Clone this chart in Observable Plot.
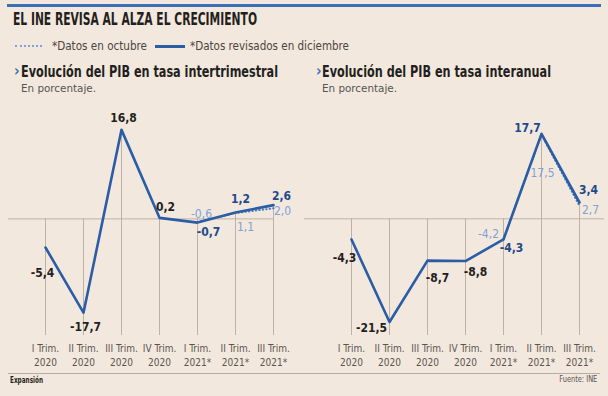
<!DOCTYPE html>
<html><head><meta charset="utf-8">
<script src="https://cdn.jsdelivr.net/npm/d3@7"></script>
<script src="https://cdn.jsdelivr.net/npm/@observablehq/plot@0.6"></script>
<style>
body{margin:0;background:#f3e8dd;}
#page{position:relative;width:608px;height:396px;overflow:hidden;background:#f3e8dd;font-family:"Liberation Sans Narrow","DejaVu Sans Condensed",Roboto,sans-serif;color:#231f20;}
.abs{position:absolute;white-space:nowrap;line-height:1;}
.chart{position:absolute;top:100px;}
</style></head><body><div id="page"></div>
<script>
// ---- data ----
const quarters = ["I Trim.\n2020","II Trim.\n2020","III Trim.\n2020","IV Trim.\n2020","I Trim.\n2021*","II Trim.\n2021*","III Trim.\n2021*"];
const octQuarters = ["I Trim.\n2021*","II Trim.\n2021*","III Trim.\n2021*"];
const interRevised = [-5.4, -17.7, 16.8, 0.2, -0.7, 1.2, 2.6];
const interOctober = [-0.6, 1.1, 2.0];
const anualRevised = [-4.3, -21.5, -8.7, -8.8, -4.3, 17.7, 3.4];
const anualOctober = [-4.2, 17.5, 2.7];
const title = "EL INE REVISA AL ALZA EL CRECIMIENTO";
const legendOct = "*Datos en octubre";
const legendRev = "*Datos revisados en diciembre";
const subLeft = "Evolución del PIB en tasa intertrimestral";
const subRight = "Evolución del PIB en tasa interanual";
const unit = "En porcentaje.";
const credit = "Expansión";
const source = "Fuente: INE";

// ---- styles ----
const BLUE = "#2b5ca6", LIGHT = "#7ea2d5", DOTS = "#4f7fc2", NAVY = "#1f4a8a", INK = "#231f20", GRID = "#bcb2a8";
const FONT = '"Liberation Sans Narrow","DejaVu Sans Condensed",Roboto,sans-serif';
const fmt = v => d3.format(".1f")(v).replace(".", ",").replace("\u2212", "-");

const page = document.getElementById("page");
function add(txt, css, fitW, origin){
  const el = document.createElement("div");
  el.className = "abs"; el.textContent = txt;
  Object.assign(el.style, css);
  page.appendChild(el);
  if (fitW) { const w = el.getBoundingClientRect().width; el.style.transform = `scaleX(${fitW / w})`; el.style.transformOrigin = origin || "left"; }
  return el;
}
// top bar
add("", {left:"7px", top:"4px", width:"594px", height:"3px", background:"#3e6fb6"});
add(title, {left:"13px", top:"10px", fontSize:"18px", fontWeight:"bold"}, 244);
// legend
add("", {left:"15px", top:"45px", width:"27px", height:"0", borderTop:`2px dotted ${LIGHT}`});
add(legendOct, {left:"52px", top:"41px", fontSize:"11.5px", color:"#4a4540"}, 95);
add("", {left:"155px", top:"45px", width:"30px", height:"2.5px", background:BLUE});
add(legendRev, {left:"190px", top:"41px", fontSize:"11.5px", color:"#4a4540"}, 159);
// subtitles
add("›", {left:"14px", top:"64px", fontSize:"15px", fontWeight:"bold", color:"#3e6fb6"});
add(subLeft, {left:"21px", top:"65px", fontSize:"15px", fontWeight:"bold"}, 257);
add(unit, {left:"21px", top:"83px", fontSize:"10.5px", color:"#555"}, 75);
add("›", {left:"316px", top:"64px", fontSize:"15px", fontWeight:"bold", color:"#3e6fb6"});
add(subRight, {left:"322px", top:"65px", fontSize:"15px", fontWeight:"bold"}, 229);
add(unit, {left:"322px", top:"83px", fontSize:"10.5px", color:"#555"}, 75);
// footer
add("", {left:"8px", top:"373px", width:"592px", height:"1px", background:"#b5aca3"});
add(credit, {left:"10px", top:"377px", fontSize:"8px", fontWeight:"bold"}, 33);
add(source, {right:"11px", top:"376px", fontSize:"8px", color:"#555"}, 38, "right");

function chart({revised, october, yDomain, marginLeft, marginRight, revOff, octOff, zeroInset}){
  const rev = quarters.map((q,i)=>({q, v:revised[i], i}));
  const oct = octQuarters.map((q,i)=>({q, v:october[i], i}));
  const yMin = yDomain[0];
  const marks = [
    Plot.ruleX(rev, {x:"q", y1:d=>Math.max(0,d.v), y2:()=>yMin, stroke:GRID, strokeWidth:1}),
    Plot.ruleY([0], {stroke:GRID, strokeWidth:1, insetLeft:zeroInset[0], insetRight:zeroInset[1]}),
    Plot.line(oct, {x:"q", y:"v", stroke:DOTS, strokeWidth:2, strokeDasharray:"0.5,3", strokeLinecap:"round"}),
    Plot.line(rev, {x:"q", y:"v", stroke:BLUE, strokeWidth:2.6}),
    Plot.text(quarters, {x:d=>d, frameAnchor:"bottom", lineAnchor:"top", dy:7, text:d=>d, fontSize:10, lineHeight:1.4, fill:"#5a5550"}),
    ...rev.map((d,i)=>Plot.text([d], {x:"q", y:"v", text:d=>fmt(d.v), dx:revOff[i][0], dy:revOff[i][1], fill: i>=4 ? NAVY : INK, fontWeight:"bold", fontSize:12})),
    ...oct.map((d,i)=>Plot.text([d], {x:"q", y:"v", text:d=>fmt(d.v), dx:octOff[i][0], dy:octOff[i][1], fill: LIGHT, fontSize:12}))
  ];
  return Plot.plot({
    width:304, height:270, marginTop:25.65, marginBottom:35, marginLeft, marginRight,
    style:{background:"transparent", fontFamily:FONT, overflow:"visible"},
    x:{type:"point", domain:quarters, padding:0, axis:null},
    y:{domain:yDomain, axis:null},
    marks
  });
}

const left = chart({
  revised: interRevised, october: interOctober, yDomain:[-22, 17.5], marginLeft:45, marginRight:31,
  revOff: [[-3,26],[2,14],[2,-12],[6,-11],[11,10],[5,-13],[8,-9]],
  octOff: [[4,-8],[10,14],[9,3]],
  zeroInset: [-37, 0]
});
left.classList.add("chart"); left.style.left = "0px";
page.appendChild(left);

const right = chart({
  revised: anualRevised, october: anualOctober, yDomain:[-24.3, 19.3], marginLeft:47, marginRight:29,
  revOff: [[-7,19],[-18,6],[10,18],[10,11],[8,9],[-14,-6],[9,-12]],
  octOff: [[-15,-5],[1,38],[11,4]],
  zeroInset: [-47, -25]
});
right.classList.add("chart"); right.style.left = "304px";
page.appendChild(right);
</script>
</body></html>
